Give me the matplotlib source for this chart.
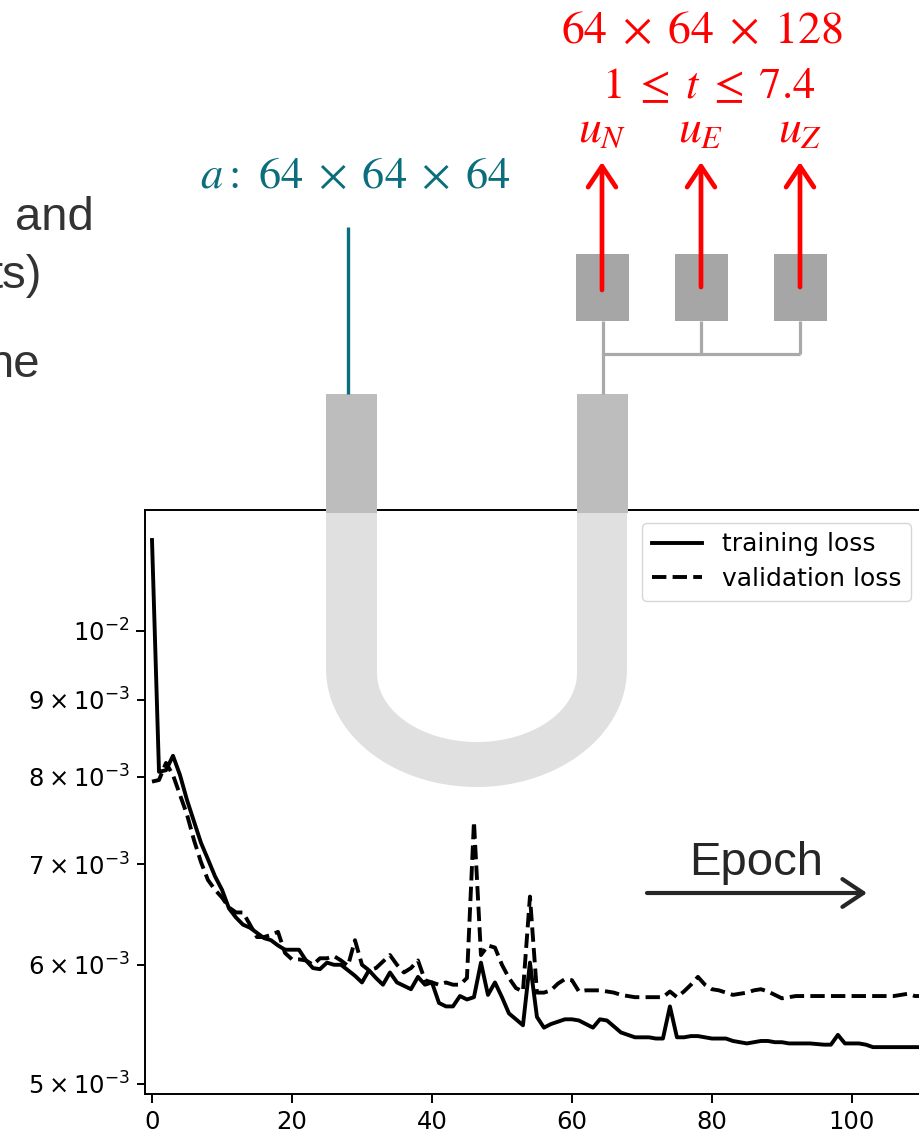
import matplotlib
matplotlib.use("Agg")
import matplotlib.pyplot as plt
from matplotlib.patches import Rectangle, FancyArrowPatch
import numpy as np

# ── Loss history (units of 1e-3) ───────────────────────────────────────────────
epochs = list(range(111))
train_loss = [
    11.49, 8.06, 8.08, 8.26, 8.02, 7.72, 7.47, 7.23, 7.05, 6.87,
    6.73, 6.54, 6.45, 6.38, 6.35, 6.30, 6.25, 6.23, 6.18, 6.14,
    6.14, 6.14, 6.04, 5.97, 5.96, 6.02, 6.00, 6.00, 5.95, 5.90,
    5.84, 5.95, 5.88, 5.82, 5.93, 5.84, 5.81, 5.78, 5.89, 5.82,
    5.84, 5.66, 5.63, 5.63, 5.72, 5.69, 5.71, 6.02, 5.73, 5.84,
    5.71, 5.57, 5.52, 5.47, 6.02, 5.54, 5.45, 5.48, 5.50, 5.52,
    5.52, 5.51, 5.48, 5.45, 5.52, 5.51, 5.46, 5.41, 5.39, 5.37,
    5.37, 5.37, 5.36, 5.36, 5.63, 5.37, 5.37, 5.38, 5.38, 5.37,
    5.36, 5.36, 5.36, 5.34, 5.33, 5.32, 5.33, 5.34, 5.34, 5.33,
    5.33, 5.32, 5.32, 5.32, 5.32, 5.315, 5.31, 5.31, 5.39, 5.32,
    5.32, 5.32, 5.31, 5.29, 5.29, 5.29, 5.29, 5.29, 5.29, 5.29,
    5.29,
]
val_loss = [
    7.94, 7.96, 8.17, 8.02, 7.78, 7.55, 7.26, 7.02, 6.83, 6.73,
    6.65, 6.55, 6.50, 6.50, 6.38, 6.26, 6.26, 6.28, 6.31, 6.11,
    6.05, 6.05, 6.04, 6.00, 6.06, 6.06, 6.08, 6.04, 5.99, 6.23,
    6.00, 5.95, 5.97, 6.03, 6.09, 6.00, 5.93, 5.97, 6.04, 5.86,
    5.84, 5.82, 5.84, 5.82, 5.82, 5.88, 7.47, 6.09, 6.18, 6.16,
    6.00, 5.88, 5.79, 5.76, 6.66, 5.75, 5.75, 5.77, 5.83, 5.87,
    5.86, 5.76, 5.77, 5.77, 5.77, 5.76, 5.75, 5.73, 5.72, 5.71,
    5.71, 5.71, 5.71, 5.71, 5.76, 5.71, 5.76, 5.82, 5.89, 5.82,
    5.78, 5.77, 5.75, 5.73, 5.74, 5.75, 5.77, 5.78, 5.76, 5.73,
    5.70, 5.71, 5.72, 5.72, 5.72, 5.72, 5.72, 5.72, 5.72, 5.72,
    5.72, 5.72, 5.72, 5.72, 5.72, 5.72, 5.72, 5.73, 5.74, 5.72,
    5.72,
]

# ── Diagram labels ─────────────────────────────────────────────────────────────
input_label = r"$a{:}\ 64\;\times\;64\;\times\;64$"
output_shape = r"$64\;\times\;64\;\times\;128$"
time_range = r"$1\;\leq\;t\;\leq\;7.4$"
channel_labels = [r"$u_N$", r"$u_E$", r"$u_Z$"]

RED = "#ff0000"
TEAL = "#0b6e7c"
DARK = "#262626"

W, H = 919, 1133
fig = plt.figure(figsize=(W / 100, H / 100), dpi=100)

# ── Loss curves ────────────────────────────────────────────────────────────────
ax = fig.add_axes([145 / W, 39 / H, 779 / W, 584 / H])
ax.plot(epochs, np.array(train_loss) * 1e-3, color="black", lw=2.8,
        label="training loss")
ax.plot(epochs, np.array(val_loss) * 1e-3, color="black", lw=2.8, ls="--",
        label="validation loss")
ax.set_yscale("log")
ax.set_ylim(4.924e-3, 1.203e-2)
ax.set_xlim(-1, 110.3)
ax.set_xticks(range(0, 101, 20))
ax.tick_params(axis="both", which="both", labelsize=17.5, width=1.4)
ax.tick_params(axis="both", which="major", length=6.5, pad=5)
ax.tick_params(axis="y", which="minor", length=5.5, pad=5)
for sp in ax.spines.values():
    sp.set_linewidth(1.4)
ax.legend(loc="upper right", fontsize=18, handlelength=2.0,
          labelspacing=0.4, borderpad=0.4)

# ── U-Net sketch drawn on top in pixel coordinates ─────────────────────────────
ov = fig.add_axes([0, 0, 1, 1], zorder=5)
ov.set_xlim(0, W)
ov.set_ylim(H, 0)
ov.axis("off")

# light U body
th = np.linspace(0, np.pi, 80)
xs = np.concatenate([[326, 326], 476.5 - 150.5 * np.cos(th), [627, 627],
                     [577, 577], 477 + 100 * np.cos(th), [377, 377]])
ys = np.concatenate([[513, 669], 669 + 118 * np.sin(th), [669, 513],
                     [513, 673], 673 + 69 * np.sin(th), [673, 513]])
ov.fill(xs, ys, color="#e0e0e0", lw=0)

# encoder / decoder blocks
for x0 in (326, 577):
    ov.add_patch(Rectangle((x0, 394), 51, 119, color="#bdbdbd", lw=0))

# input stem
ov.plot([348, 348], [227, 394], color=TEAL, lw=2.4, solid_capstyle="butt")
ov.text(355, 188, input_label, color=TEAL, fontsize=32, ha="center",
        va="baseline", math_fontfamily="stix")

# output heads
head_x = [602, 701, 800]
grey = "#a9a9a9"
ov.plot([603, 603], [394, 321], color=grey, lw=2.3, solid_capstyle="butt")
ov.plot([603, 800], [354, 354], color=grey, lw=2.3, solid_capstyle="butt")
for hx in head_x[1:]:
    ov.plot([hx, hx], [321, 354], color=grey, lw=2.3, solid_capstyle="butt")
for hx, lab, y0 in zip(head_x, channel_labels, [290, 287, 287]):
    ov.add_patch(Rectangle((hx - 26, 254), 53, 67, color="#a6a6a6", lw=0))
    ov.add_patch(FancyArrowPatch((hx, y0), (hx, 162),
                                 arrowstyle="->,head_length=0.75,head_width=0.5",
                                 mutation_scale=20, lw=3.4, color=RED,
                                 shrinkA=0, shrinkB=0, zorder=3))
    ov.text(hx, 142, lab, color=RED, fontsize=33, ha="center", va="baseline",
            math_fontfamily="stix")

ov.text(702, 43, output_shape, color=RED, fontsize=33, ha="center",
        va="baseline", math_fontfamily="stix")
ov.text(709, 98, time_range, color=RED, fontsize=32, ha="center",
        va="baseline", math_fontfamily="stix")

# caption fragments at the left edge
side_font = dict(family="Liberation Sans", fontsize=34, color="#333333",
                 va="baseline")
ov.text(15, 230, "and", ha="left", **side_font)
ov.text(42, 288, "ts)", ha="right", **side_font)
ov.text(40, 377, "ne", ha="right", **side_font)

# epoch direction
ov.text(756, 875, "Epoch", family="Liberation Sans", fontsize=34, color=DARK,
        ha="center", va="baseline")
ov.add_patch(FancyArrowPatch((647, 893), (867, 893),
                             arrowstyle="->,head_length=0.75,head_width=0.5",
                             mutation_scale=20, lw=3, color=DARK,
                             shrinkA=0, shrinkB=0))

fig.savefig("out.png", dpi=100)
